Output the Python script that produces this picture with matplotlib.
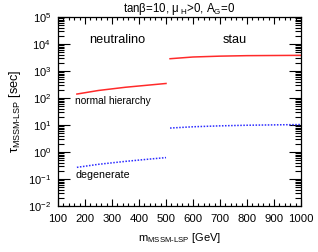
import matplotlib
matplotlib.use("Agg")
import matplotlib.pyplot as plt
from matplotlib.ticker import LogLocator, MultipleLocator, NullFormatter

plt.rcParams['font.family'] = ['Liberation Sans', 'DejaVu Sans']
plt.rcParams['mathtext.fontset'] = 'custom'
plt.rcParams['mathtext.rm'] = 'Liberation Sans'
plt.rcParams['mathtext.it'] = 'Liberation Sans'

# data
neutralino_m = [170, 250, 350, 450, 500]
neutralino_normal = [140, 190, 250, 310, 345]
neutralino_degenerate = [0.27, 0.35, 0.45, 0.56, 0.62]

stau_m = [515, 600, 700, 800, 900, 1000]
stau_normal = [2850, 3300, 3550, 3700, 3750, 3800]
stau_degenerate = [7.7, 8.6, 9.3, 9.8, 10.1, 10.4]

xticks = [100, 200, 300, 400, 500, 600, 700, 800, 900, 1000]

fig = plt.figure(figsize=(3.18, 2.52), dpi=100)
ax = fig.add_axes([58/318, 1-206/252, 243/318, 189/252])

red = '#ff2a2a'
blue = '#2a2aff'
ax.plot(neutralino_m, neutralino_normal, color=red, lw=1.1)
ax.plot(stau_m, stau_normal, color=red, lw=1.1)
ax.plot(neutralino_m, neutralino_degenerate, color=blue, lw=1.1, linestyle=(0, (1, 1)))
ax.plot(stau_m, stau_degenerate, color=blue, lw=1.1, linestyle=(0, (1, 1)))

ax.set_yscale('log')
ax.set_xlim(100, 1000)
ax.set_ylim(1e-2, 1e5)
ax.set_xticks(xticks)
ax.set_xticklabels([str(t) for t in xticks])
ax.xaxis.set_minor_locator(MultipleLocator(20))
ax.yaxis.set_major_locator(LogLocator(base=10, numticks=20))
ax.yaxis.set_minor_locator(LogLocator(base=10, subs=[2, 3, 4, 5, 6, 7, 8, 9], numticks=20))
ax.yaxis.set_minor_formatter(NullFormatter())

ax.tick_params(axis='both', which='both', direction='in', top=True, right=True,
               color='black', width=0.8)
ax.tick_params(axis='x', which='major', labelsize=8.2, pad=6)
ax.tick_params(axis='y', which='major', labelsize=8.0, pad=5)
ax.tick_params(axis='y', which='major', length=8.5)
ax.tick_params(axis='y', which='minor', length=4.5)
ax.tick_params(axis='x', which='major', length=5)
ax.tick_params(axis='x', which='minor', length=2.5)
for s in ax.spines.values():
    s.set_linewidth(0.9)

ax.text(0.243, 0.878, 'neutralino', transform=ax.transAxes, fontsize=9.2, ha='center', va='center')
ax.text(0.728, 0.878, 'stau', transform=ax.transAxes, fontsize=9.2, ha='center', va='center')
ax.text(163, 80, 'normal hierarchy', fontsize=7.3, ha='left', va='center')
ax.text(163, 0.14, 'degenerate', fontsize=7.7, ha='left', va='center')

ax.set_title(r'tan$\beta$=10, $\mu_{\ H}$>0, A$_G$=0', fontsize=8.3, pad=3)
ax.set_xlabel(r'm$_{\rm MSSM\text{-}LSP}$ [GeV]', fontsize=8, labelpad=5)
ax.yaxis.set_label_coords(-35/243, (206-97)/189)
ax.set_ylabel(r'$\tau_{\rm MSSM\text{-}LSP}$ [sec]', fontsize=9.2)

fig.savefig('out.png', dpi=100)
